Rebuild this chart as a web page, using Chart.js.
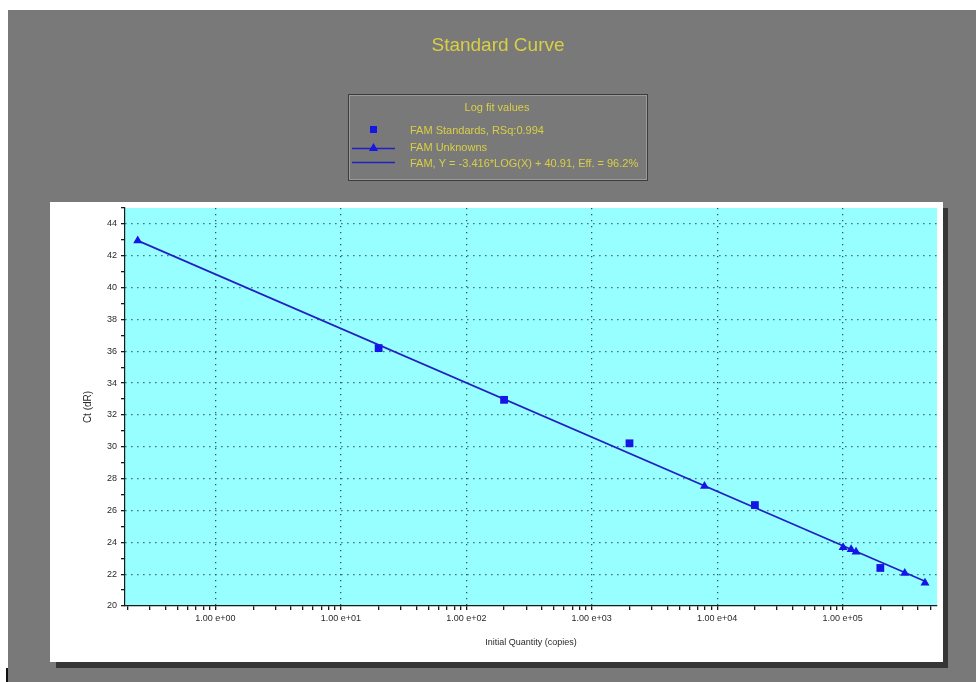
<!DOCTYPE html>
<html>
<head>
<meta charset="utf-8">
<script src="https://cdn.jsdelivr.net/npm/chart.js@4/dist/chart.umd.min.js"></script>
<style>
  html,body{margin:0;padding:0;background:#ffffff;}
  #wrap{position:relative;width:976px;height:682px;}
  canvas{display:block;}
</style>
</head>
<body>
<div id="wrap"><canvas id="c" width="976" height="682"></canvas></div>
<script>
// ---- data ----
const CHART_TITLE = 'Standard Curve';
const LEGEND_TITLE = 'Log fit values';
const SERIES_NAMES = ['FAM Standards, RSq:0.994', 'FAM Unknowns', 'FAM, Y = -3.416*LOG(X) + 40.91, Eff. = 96.2%'];

const STD_X = [20, 200, 2000, 20000, 200000];
const STD_Y = [36.2, 32.95, 30.22, 26.34, 22.39];

const UNK_X = [0.24, 7925, 101000, 117000, 128000, 313000, 454000];
const UNK_Y = [42.95, 27.53, 23.68, 23.55, 23.40, 22.06, 21.45];

const FIT_X = [0.24, 454000];
const FIT_Y = [42.95, 21.55];

const X_MAJOR = [1, 10, 100, 1000, 10000, 100000];
const X_TICK_LABELS = ['1.00 e+00', '1.00 e+01', '1.00 e+02', '1.00 e+03', '1.00 e+04', '1.00 e+05'];
const X_MINOR = [0.2,0.3,0.4,0.5,0.6,0.7,0.8,0.9,
  2,3,4,5,6,7,8,9, 20,30,40,50,60,70,80,90, 200,300,400,500,600,700,800,900,
  2000,3000,4000,5000,6000,7000,8000,9000, 20000,30000,40000,50000,60000,70000,80000,90000,
  200000,300000,400000,500000];
const X_MIN = 0.19, X_MAX = 566000;
const Y_MIN = 20, Y_MAX = 45;
const Y_TICK_LABELS = [20,22,24,26,28,30,32,34,36,38,40,42,44];
const X_TITLE = 'Initial Quantity (copies)';
const Y_TITLE = 'Ct (dR)';

// ---- styles ----
const BG_GRAY = '#797979';
const YELLOW = '#d9cf45';
const CYAN = '#97ffff';
const BLUE = '#1515e6';
const LINE_BLUE = '#2222c4';
const GRID = '#2c5a5e';
const AXIS = '#1a1a1a';
const TXT = '#2a2a2a';
const SMALL_FONT = "'Liberation Sans Narrow','Liberation Sans',Arial,sans-serif";
const FONT = "'Liberation Sans',Arial,sans-serif";

const pts = (xs, ys) => xs.map((x, i) => ({x: x, y: ys[i]}));

const decorPlugin = {
  id: 'decor',
  beforeDraw(chart) {
    const ctx = chart.ctx, a = chart.chartArea;
    ctx.save();
    ctx.fillStyle = '#ffffff';
    ctx.fillRect(0, 0, 976, 682);
    ctx.fillStyle = BG_GRAY;
    ctx.fillRect(8, 10, 968, 672);
    // panel shadow
    ctx.fillStyle = '#363636';
    ctx.fillRect(56, 208, 892, 460);
    // white panel
    ctx.fillStyle = '#ffffff';
    ctx.fillRect(50, 202, 893, 460);
    // plot area
    ctx.fillStyle = CYAN;
    ctx.fillRect(a.left, a.top, a.right - a.left, a.bottom - a.top);
    // black mark bottom left
    ctx.fillStyle = '#111';
    ctx.fillRect(6, 668, 2, 14);
    ctx.restore();
  },
  afterDraw(chart) {
    const ctx = chart.ctx;
    ctx.save();
    // main title
    ctx.fillStyle = YELLOW;
    ctx.font = '19px ' + FONT;
    ctx.textAlign = 'center';
    ctx.textBaseline = 'middle';
    ctx.fillText(CHART_TITLE, 498, 46);

    // legend box
    const bx = 348, by = 94, bw = 299, bh = 86;
    ctx.strokeStyle = '#3c3c3c';
    ctx.lineWidth = 1;
    ctx.strokeRect(bx + 0.5, by + 0.5, bw, bh);
    ctx.strokeStyle = '#9a9a9a';
    ctx.strokeRect(bx + 1.5, by + 1.5, bw - 2, bh - 2);

    ctx.font = '11px ' + FONT;
    ctx.fillStyle = YELLOW;
    ctx.textAlign = 'center';
    ctx.fillText(LEGEND_TITLE, 497, 108);

    ctx.textAlign = 'left';
    const rows = [131, 148, 164];
    rows.forEach((ry, i) => ctx.fillText(SERIES_NAMES[i], 410, ry));

    const ds = chart.data.datasets;
    // standards icon
    ctx.fillStyle = ds[0].backgroundColor;
    ctx.fillRect(370, 126, 7, 7);
    // unknowns icon: line + triangle
    ctx.strokeStyle = ds[2].borderColor;
    ctx.lineWidth = 1.5;
    ctx.beginPath(); ctx.moveTo(352, 148.5); ctx.lineTo(395, 148.5); ctx.stroke();
    ctx.fillStyle = ds[1].backgroundColor;
    ctx.beginPath(); ctx.moveTo(373.5, 143); ctx.lineTo(378, 151); ctx.lineTo(369, 151); ctx.closePath(); ctx.fill();
    // fit line icon
    ctx.beginPath(); ctx.moveTo(352, 162.5); ctx.lineTo(395, 162.5); ctx.stroke();
    ctx.restore();
  }
};

new Chart(document.getElementById('c'), {
  type: 'scatter',
  data: {
    datasets: [
      {
        label: SERIES_NAMES[0],
        data: pts(STD_X, STD_Y),
        pointStyle: 'rect', pointRadius: 5.5, pointHoverRadius: 5.5,
        backgroundColor: BLUE, borderColor: BLUE, borderWidth: 0,
        showLine: false, order: 1
      },
      {
        label: SERIES_NAMES[1],
        data: pts(UNK_X, UNK_Y),
        pointStyle: 'triangle', pointRadius: 5.2, pointHoverRadius: 5.2,
        backgroundColor: BLUE, borderColor: BLUE, borderWidth: 0,
        showLine: false, order: 0
      },
      {
        label: SERIES_NAMES[2],
        data: pts(FIT_X, FIT_Y),
        showLine: true, pointRadius: 0, pointHoverRadius: 0,
        borderColor: LINE_BLUE, borderWidth: 1.7, backgroundColor: LINE_BLUE,
        order: 2
      }
    ]
  },
  options: {
    responsive: false,
    animation: false,
    events: [],
    layout: { padding: { left: 50, top: 208, right: 39, bottom: 20 } },
    plugins: { legend: { display: false }, title: { display: false }, tooltip: { enabled: false } },
    scales: {
      x: {
        type: 'logarithmic',
        min: X_MIN, max: X_MAX,
        afterBuildTicks(scale) {
          const all = X_MINOR.concat(X_MAJOR).sort((a, b) => a - b);
          scale.ticks = all.map(v => ({ value: v, major: X_MAJOR.includes(v) }));
        },
        afterFit(scale) { scale.height = 56; },
        ticks: {
          autoSkip: false, maxRotation: 0, minRotation: 0, padding: 3,
          color: TXT, font: { family: SMALL_FONT, size: 9 },
          callback(value) {
            const k = X_MAJOR.indexOf(value);
            return k >= 0 ? X_TICK_LABELS[k] : '';
          }
        },
        grid: {
          drawOnChartArea: true, drawTicks: true, tickLength: 4,
          color: ctx => (ctx.tick && X_MAJOR.includes(ctx.tick.value)) ? GRID : 'rgba(0,0,0,0)',
          tickColor: AXIS, lineWidth: 1.3, tickBorderDash: [],
        },
        border: { display: true, color: AXIS, width: 1.2, dash: [1.3, 4.7] },
        title: { display: true, text: X_TITLE, color: TXT, font: { family: FONT, size: 9 }, padding: { top: 0, bottom: 14 } }
      },
      y: {
        type: 'linear',
        min: Y_MIN, max: Y_MAX,
        afterFit(scale) { scale.width = 75; },
        ticks: {
          stepSize: 1, autoSkip: false, padding: 4,
          color: TXT, font: { family: SMALL_FONT, size: 9 },
          callback(value) { return Y_TICK_LABELS.includes(value) ? String(value) : ''; }
        },
        grid: {
          drawTicks: true, tickLength: 4,
          color: ctx => (ctx.tick && Y_TICK_LABELS.includes(ctx.tick.value) && ctx.tick.value !== Y_MIN) ? GRID : 'rgba(0,0,0,0)',
          tickColor: AXIS, lineWidth: 1.3
        },
        border: { display: true, color: AXIS, width: 1.2, dash: [1.3, 4.7] },
        title: { display: true, text: Y_TITLE, color: TXT, font: { family: FONT, size: 10 }, padding: { top: 32, bottom: 0 } }
      }
    }
  },
  plugins: [decorPlugin]
});
</script>
</body>
</html>
